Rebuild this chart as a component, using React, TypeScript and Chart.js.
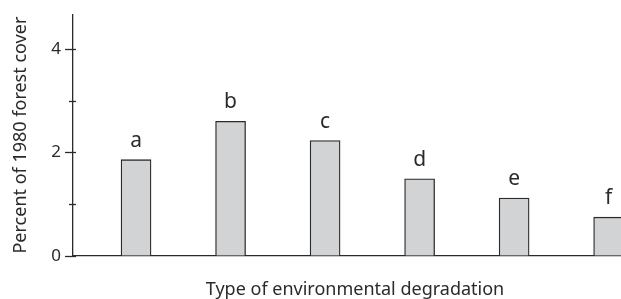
import React, { useEffect, useRef } from "react";
import { Chart, registerables } from "chart.js";

Chart.register(...registerables);

const categories = ["a", "b", "c", "d", "e", "f"];
const values = [1.86, 2.6, 2.23, 1.49, 1.12, 0.75];
const yTicks = [0, 1, 2, 3, 4];
const yLabelled = [0, 2, 4];
const xTitle = "Type of environmental degradation";
const yTitle = "Percent of 1980 forest cover";

const FONT = "'Noto Sans', sans-serif";
const INK = "#2a2a2a";

const barLetters = {
  id: "barLetters",
  afterDatasetsDraw(chart: any) {
    const ctx = chart.ctx;
    const meta = chart.getDatasetMeta(0);
    ctx.save();
    ctx.fillStyle = INK;
    ctx.font = `21px ${FONT}`;
    ctx.textAlign = "center";
    ctx.textBaseline = "alphabetic";
    meta.data.forEach((el: any, i: number) => {
      ctx.fillText(categories[i], el.x, el.y - 13);
    });
    ctx.restore();
  },
};

const tickMarks = {
  id: "tickMarks",
  afterDraw(chart: any) {
    const ctx = chart.ctx;
    const ys = chart.scales.y;
    const left = chart.chartArea.left;
    ctx.save();
    ctx.strokeStyle = INK;
    ctx.lineWidth = 1.3;
    yTicks.forEach((v) => {
      const py = Math.round(ys.getPixelForValue(v)) + 0.5;
      const major = yLabelled.includes(v);
      ctx.beginPath();
      ctx.moveTo(left - (major ? 8 : 4), py);
      ctx.lineTo(left + 3, py);
      ctx.stroke();
    });
    ctx.restore();
  },
};

export default function App() {
  const ref = useRef<HTMLCanvasElement | null>(null);
  useEffect(() => {
    if (!ref.current) return;
    const chart = new Chart(ref.current, {
      type: "bar",
      data: {
        datasets: [
          {
            data: categories.map((c, i) => ({ x: i, y: values[i] })),
            backgroundColor: "#d2d3d5",
            borderColor: INK,
            borderWidth: 1.3,
            barThickness: 30,
          },
        ],
      },
      options: {
        animation: false,
        responsive: true,
        maintainAspectRatio: false,
        layout: { padding: { top: 13, right: 0, left: 0, bottom: 0 } },
        plugins: { legend: { display: false }, tooltip: { enabled: false } },
        scales: {
          x: {
            type: "linear",
            offset: false,
            min: -0.667,
            max: 5.3,
            ticks: { display: false },
            grid: { display: false, drawTicks: false, offset: false },
            border: { display: true, color: INK, width: 1.3 },
            title: {
              display: true,
              text: xTitle,
              color: INK,
              font: { family: FONT, size: 18, lineHeight: 1 },
              padding: { top: 0, bottom: 0 },
            },
            afterFit(s: any) {
              s.height = 43;
            },
          },
          y: {
            min: 0,
            max: 4.67,
            afterBuildTicks(s: any) {
              s.ticks = yTicks.map((v) => ({ value: v }));
            },
            ticks: {
              color: INK,
              padding: 4,
              font: { family: FONT, size: 17 },
              callback: (v: any) => (yLabelled.includes(Number(v)) ? String(v) : ""),
            },
            grid: { drawOnChartArea: false, drawTicks: true, tickLength: 8, color: "rgba(0,0,0,0)" },
            border: { display: true, color: INK, width: 1.3 },
            title: {
              display: true,
              text: yTitle,
              color: INK,
              font: { family: FONT, size: 18, lineHeight: 1.2 },
              padding: { top: 10, bottom: 0 },
            },
            afterFit(s: any) {
              s.width = 73;
            },
          },
        },
      },
      plugins: [barLetters, tickMarks],
    });
    return () => chart.destroy();
  }, []);
  return (
    <div style={{ position: "absolute", left: 0, top: 0, width: 621, height: 299, overflow: "hidden", background: "#fff" }}>
      <div style={{ position: "relative", width: 637, height: 299 }}>
        <canvas ref={ref} />
      </div>
    </div>
  );
}
